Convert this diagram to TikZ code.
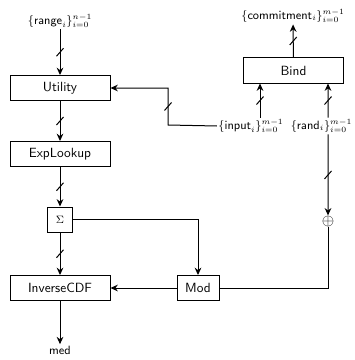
\documentclass[tikz,border=0pt]{standalone}
\usetikzlibrary{arrows.meta}
\begin{document}
\begin{tikzpicture}[x=0.75pt,y=-0.75pt,
  font=\sffamily,
  blk/.style={draw,line width=0.75pt,minimum height=18.75pt,inner sep=0pt},
  wide/.style={blk,minimum width=75pt},
  lbl/.style={font=\sffamily\small,inner sep=1pt},
  flow/.style={line width=0.75pt,-{Stealth[length=5.5pt,width=5pt]}},
  line/.style={line width=0.75pt},
  slashmark/.style={line width=0.75pt}
]
\useasboundingbox (0,0) rectangle (354,360);
\node[wide] (util) at (60,88) {Utility};
\node[wide] (exp) at (60,154) {ExpLookup};
\node[blk,minimum width=18.75pt] (sum) at (60,219.5) {\footnotesize$\Sigma$};
\node[wide] (inv) at (60,288) {InverseCDF};
\node[blk,minimum width=31.5pt] (mod) at (198,288) {Mod};
\node[wide] (bind) at (293.5,70.5) {Bind};
\node[lbl] (range) at (60,21) {$\{\mathsf{range}_i\}_{i=0}^{n-1}$};
\node[lbl] (commit) at (293,16) {$\{\mathsf{commitment}_i\}_{i=0}^{m-1}$};
\node[lbl] (inp) at (251,126) {$\{\mathsf{input}_i\}_{i=0}^{m-1}$};
\node[lbl] (rnd) at (321.5,126) {$\{\mathsf{rand}_i\}_{i=0}^{m-1}$};
\node[inner sep=0pt,font=\large] (xor) at (328,221) {$\oplus$};
\node[lbl] (med) at (60,350) {med};
\coordinate (c1) at (168,125);
\coordinate (c2) at (198,219.5);
\coordinate (c3) at (328,288);
\coordinate (s8) at (168,106.5);
% main chain
\draw[flow] (range) -- coordinate(s1) (util);
\draw[flow] (util) -- coordinate(s2) (exp);
\draw[flow] (exp) -- coordinate(s3) (sum);
\draw[flow] (sum) -- coordinate(s4) (inv);
\draw[flow] (inv) -- (med);
\draw[flow] (mod) -- (inv);
\draw[flow] (sum) -- (c2) -- (mod);
% bind
\draw[flow] (bind) -- coordinate(s5) (commit);
\draw[flow] ([xshift=6.75pt]inp.north) -- coordinate(s6) (bind.south -| 260,0);
\draw[flow] ([xshift=4.9pt]rnd.north) -- coordinate(s7) (bind.south -| 328,0);
% feedback
\draw[flow] (inp.west) -- (c1) -- (c1 |- util) -- (util);
% rand path
\draw[flow] ([xshift=4.9pt]rnd.south) -- coordinate(s9) (xor);
\draw[line] (xor) -- (c3) -- (mod);
% slashes
\foreach \s in {s1,s2,s3,s4,s5,s6,s7,s8,s9}
  \draw[slashmark] ([shift={(-3.5,4)}]\s) -- ([shift={(3.5,-4)}]\s);
\end{tikzpicture}
\end{document}
